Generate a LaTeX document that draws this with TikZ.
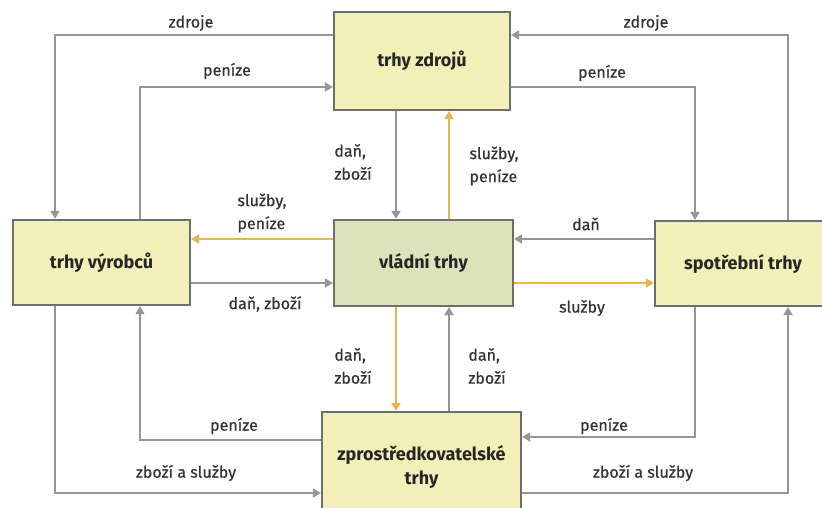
\documentclass[tikz,border=0pt]{standalone}
\usepackage{fontspec}
\setmainfont{Fira Sans}
\newfontfamily\flowfont{Fira Sans}[FakeBold=0.6]
\usetikzlibrary{arrows.meta}
\definecolor{boxyellow}{RGB}{243,239,185}
\definecolor{boxgreen}{RGB}{220,226,186}
\definecolor{framegray}{RGB}{110,110,110}
\definecolor{flowgray}{RGB}{150,150,150}
\definecolor{flowgold}{RGB}{232,180,78}
\begin{document}
\begin{tikzpicture}[x=1pt,y=-1pt,
  market/.style={draw=framegray, line width=2.2pt, fill=boxyellow, align=center,
    font=\fontsize{18}{24}\selectfont\bfseries, text=black!85, inner sep=0pt},
  flow/.style={draw=flowgray, line width=2.2pt, -{Triangle[length=8pt,width=9pt]}},
  goldflow/.style={flow, draw=flowgold},
  lbl/.style={font=\flowfont\fontsize{16}{23}\selectfont, text=black!80, inner sep=0pt, align=left}]
\useasboundingbox (0,0) rectangle (822,508);
\clip (0,0) rectangle (822,508);

% market boxes
\node[market, minimum width=176pt, minimum height=98pt] (Z) at (422,61) {trhy zdrojů};
\node[market, minimum width=177pt, minimum height=85pt] (V) at (101.5,262.5) {trhy výrobců};
\node[market, fill=boxgreen, minimum width=179pt, minimum height=86pt] (G) at (423.5,263) {vládní trhy};
\node[market, minimum width=176pt, minimum height=85pt] (S) at (743,263.5) {spotřební trhy};
\node[market, minimum width=199pt, minimum height=110pt] (P) at (421.5,467) {zprostředkovatelské\\trhy};

% flows around the resource market
\draw[flow] (Z.west |- 0,35) -| (V.north -| 55,0);
\draw[flow] (V.north -| 140,0) |- (Z.west |- 0,87);
\draw[flow] (Z.south -| 396,0) -- (G.north -| 396,0);
\draw[goldflow] (G.north -| 449,0) -- (Z.south -| 449,0);
\draw[flow] (S.north -| 788,0) |- (Z.east |- 0,35);
\draw[flow] (Z.east |- 0,87) -| (S.north -| 695,0);

% flows in the middle row
\draw[flow] (S.west |- 0,239) -- (G.east |- 0,239);
\draw[goldflow] (G.west |- 0,239) -- (V.east |- 0,239);
\draw[flow] (V.east |- 0,283) -- (G.west |- 0,283);
\draw[goldflow] (G.east |- 0,283) -- (S.west |- 0,283);

% flows around the intermediary market
\draw[goldflow] (G.south -| 396,0) -- (P.north -| 396,0);
\draw[flow] (P.north -| 449,0) -- (G.south -| 449,0);
\draw[flow] (P.west |- 0,440) -| (V.south -| 140,0);
\draw[flow] (V.south -| 55,0) |- (P.west |- 0,493);
\draw[flow] (S.south -| 695,0) |- (P.east |- 0,437);
\draw[flow] (P.east |- 0,493) -| (S.south -| 788,0);

% flow labels
\node[lbl] (l1) at (191,23) {zdroje};
\node[lbl] (l2) at (227,71) {peníze};
\node[lbl] (l3) at (353,162) {daň,\\zboží};
\node[lbl] (l4) at (262,213) {služby,\\peníze};
\node[lbl] (l5) at (646,23) {zdroje};
\node[lbl] (l6) at (602,73) {peníze};
\node[lbl] (l7) at (494,166) {služby,\\peníze};
\node[lbl] (l8) at (586,224) {daň};
\node[lbl] (l9) at (265,304) {daň, zboží};
\node[lbl] (l10) at (582,308) {služby};
\node[lbl] (l11) at (353,366) {daň,\\zboží};
\node[lbl] (l12) at (487,366) {daň,\\zboží};
\node[lbl] (l13) at (234,426) {peníze};
\node[lbl] (l14) at (186,473) {zboží a služby};
\node[lbl] (l15) at (604,426) {peníze};
\node[lbl] (l16) at (643,473) {zboží a služby};
\end{tikzpicture}
\end{document}
